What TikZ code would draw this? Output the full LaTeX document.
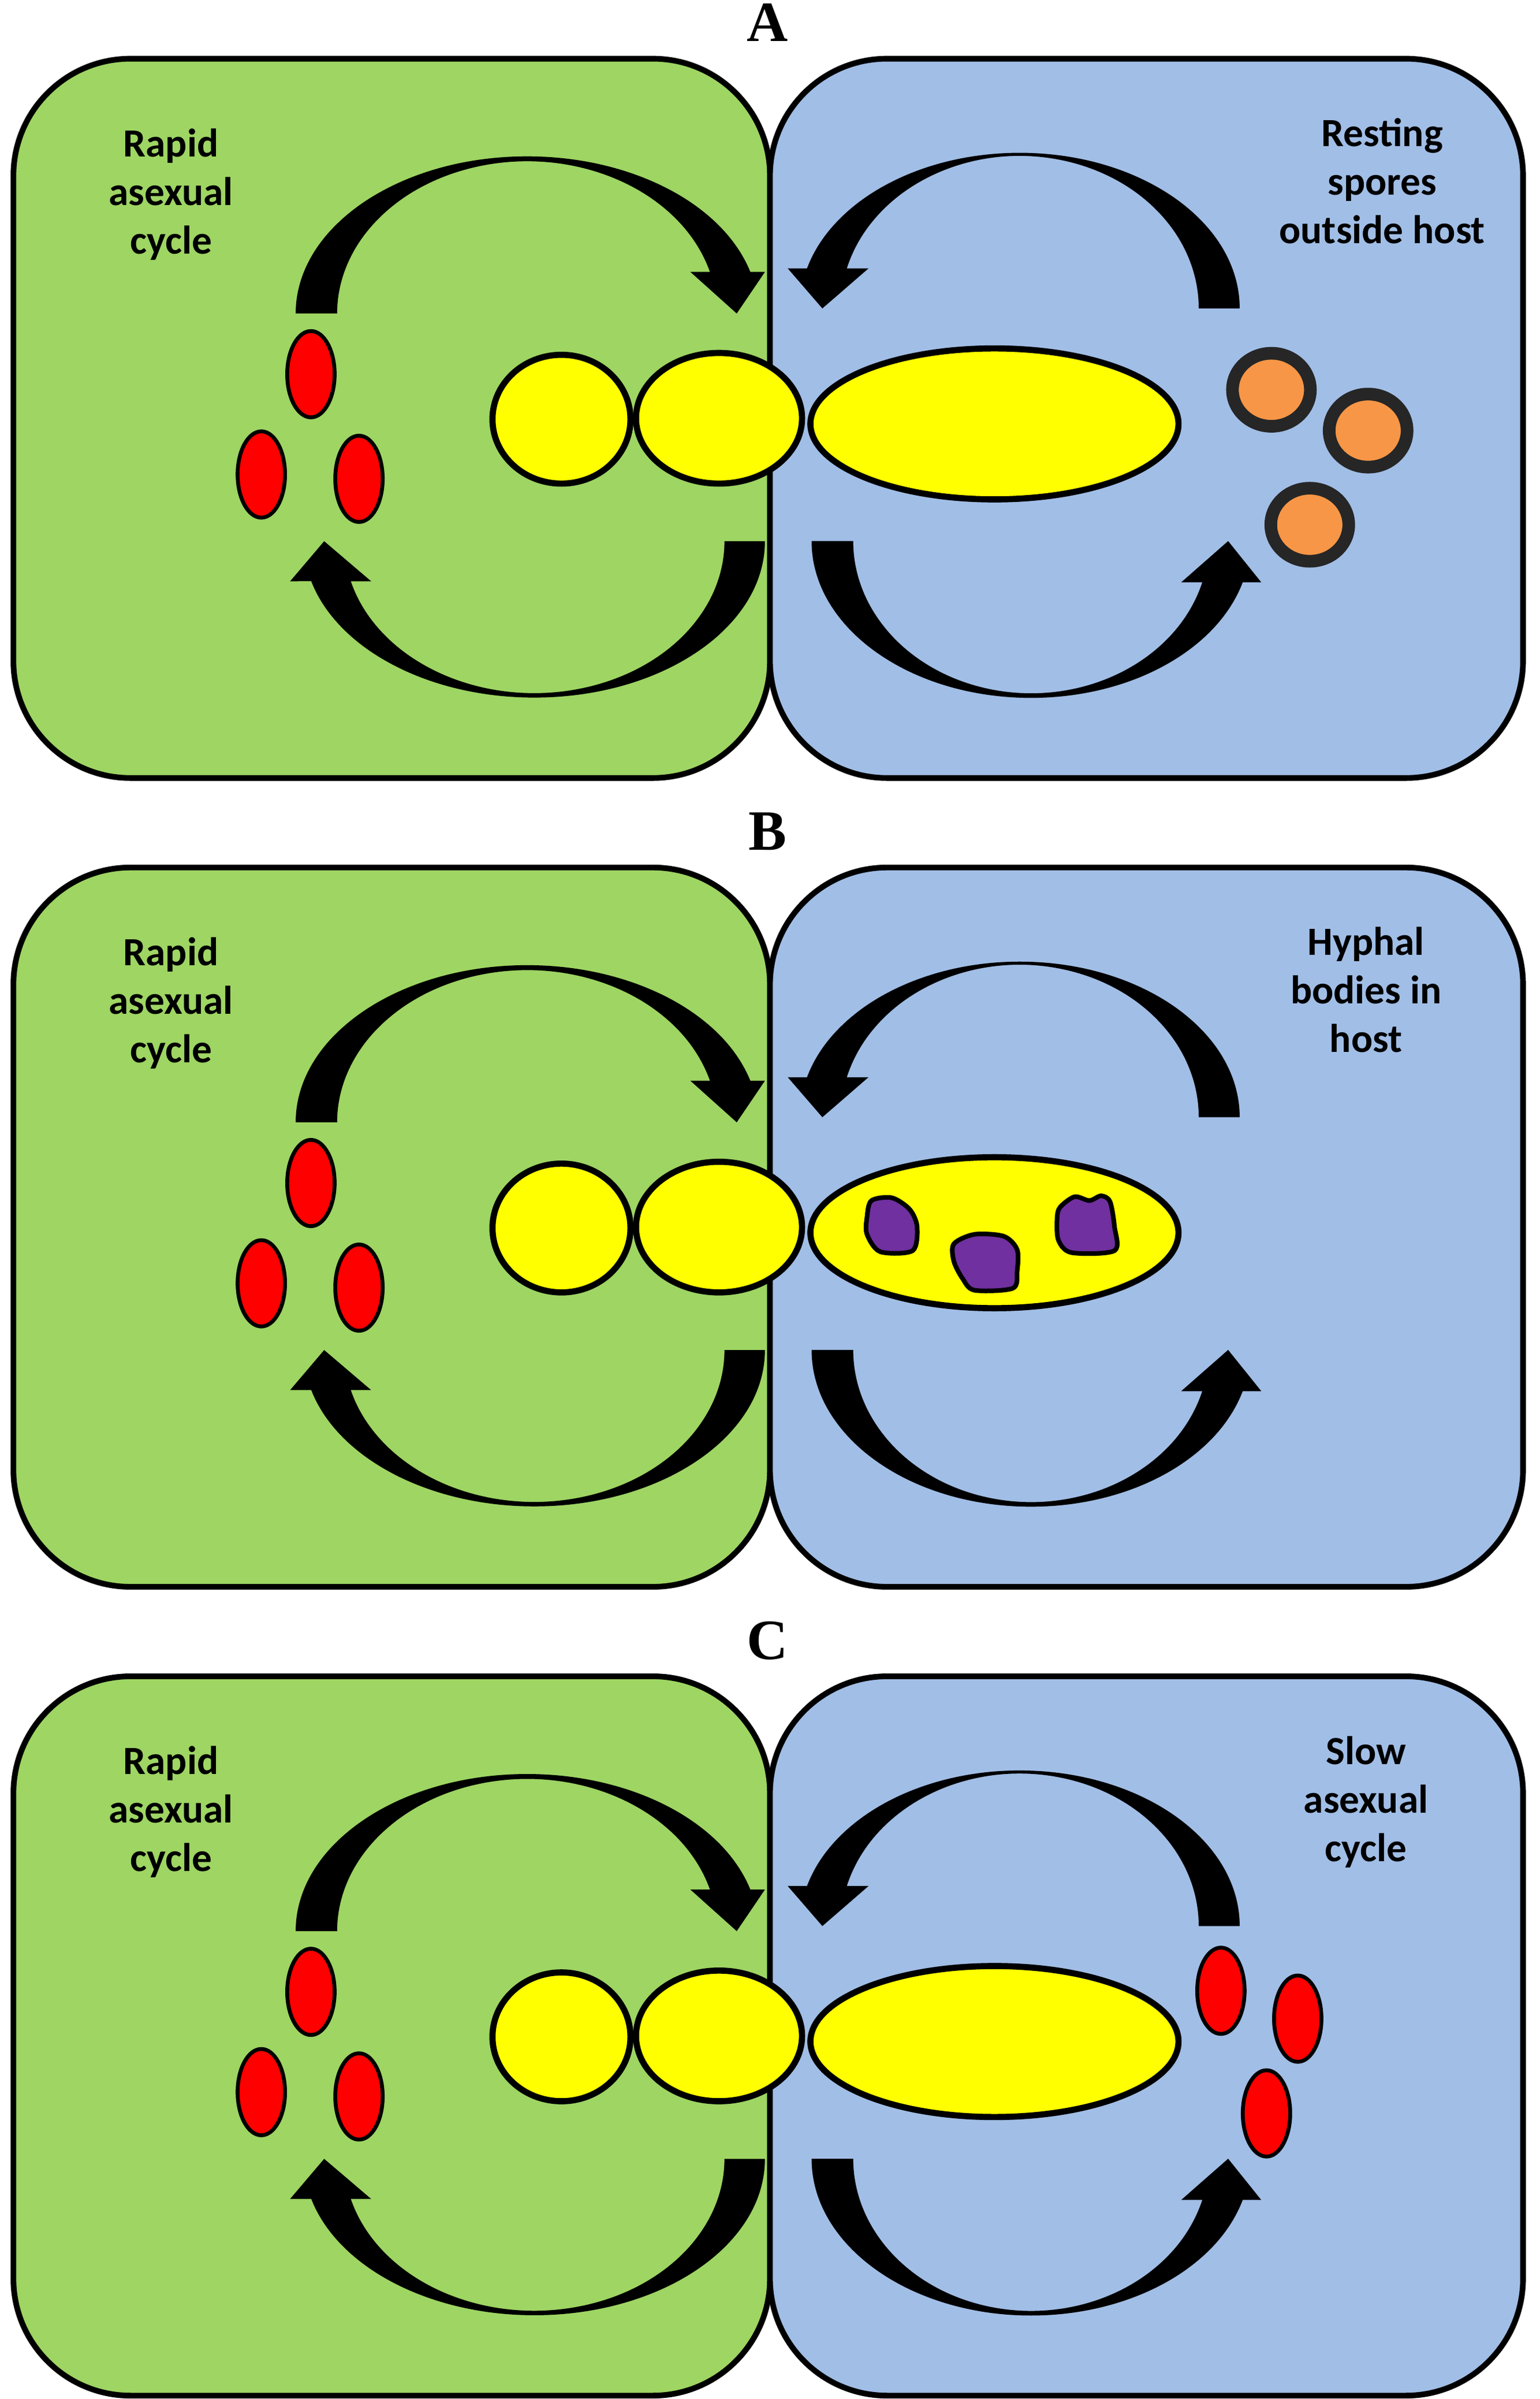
\documentclass[tikz,border=0pt]{standalone}
\usepackage{fontspec}
\setmainfont{Carlito}
\newfontfamily\panelfont{Liberation Serif}
\usepackage{xcolor}
\usetikzlibrary{positioning,shapes.geometric}
\definecolor{hostgreen}{RGB}{158,213,99}
\definecolor{hostblue}{RGB}{161,190,230}
\definecolor{cellyellow}{RGB}{255,255,0}
\definecolor{sporered}{RGB}{255,0,0}
\definecolor{sporeorange}{RGB}{247,150,70}
\definecolor{sporerim}{RGB}{38,38,38}
\definecolor{hyphalpurple}{RGB}{112,48,160}
\tikzset{hostbox/.style={draw=black, line width=3.7pt, rounded corners=76pt},
	cell/.style={ellipse, draw=black, fill=cellyellow, line width=4pt, inner sep=0pt},
	zoospore/.style={ellipse, draw=black, fill=sporered, line width=2.5pt, inner sep=0pt, minimum width=30.8pt, minimum height=56pt},
	restspore/.style={ellipse, draw=sporerim, fill=sporeorange, line width=8.2pt, inner sep=0pt, minimum width=50.6pt, minimum height=47.4pt},
	hyphal/.style={draw=black, fill=hyphalpurple, line width=3pt, line join=round},
	cyclearrow/.style={fill=black},
	stagetext/.style={font=\bfseries\fontsize{26}{31.5}\selectfont, align=center, anchor=base},
	paneltitle/.style={font=\panelfont\bfseries\fontsize{37}{40}\selectfont, anchor=base}}

\begin{document}
\begin{tikzpicture}[x=1pt,y=-1pt]
	\useasboundingbox (0,0) rectangle (1000,1557.2);
	% the three panels share host boxes, cycles and yellow cells
	\foreach \p/\dy/\rx/\ry/\rtext in {A/0/897.5/157.9/{Resting\\spores\\outside host},
		B/525/887/158.1/{Hyphal\\bodies in\\host},
		C/1050/887/158.2/{Slow\\asexual\\cycle}}{
		\begin{scope}[shift={(0,\dy)}]
			\draw[hostbox, fill=hostgreen] (8.7,38.1) rectangle (500,505);
			\draw[hostbox, fill=hostblue] (500,38.1) rectangle (989,505);
			\node[paneltitle] (title\p) at (498.3,26.9) {\p};
			% asexual cycle, left
			\fill[cyclearrow] (192,203.5) arc[start angle=180, end angle=344.65, x radius=150.3, y radius=102]
				-- (496.7,176.5) -- (478.4,203.5) -- (448.3,176.5) -- (461,176.5)
				arc[start angle=344.14, end angle=180, x radius=123.4, y radius=98.8] -- cycle;
			\fill[cyclearrow] (496.7,351.3) arc[start angle=0, end angle=165.16, x radius=149.8, y radius=101.5]
				-- (188.4,377.3) -- (210.5,351.3) -- (241,377.3) -- (227.8,377.3)
				arc[start angle=164.71, end angle=0, x radius=123.5, y radius=98.6] -- cycle;
			% cycle, right
			\fill[cyclearrow] (805,200.2) arc[start angle=360, end angle=194.92, x radius=142.9, y radius=101]
				-- (511.5,174.2) -- (534,200.2) -- (564,174.2) -- (549.9,174.2)
				arc[start angle=195.23, end angle=360, x radius=116.3, y radius=99] -- cycle;
			\fill[cyclearrow] (527,351.2) arc[start angle=180, end angle=15.26, x radius=142.5, y radius=101.8]
				-- (819,378) -- (797.5,351.2) -- (767,378) -- (780.7,378)
				arc[start angle=15.74, end angle=180, x radius=115.5, y radius=98.8] -- cycle;
			\node[cell, minimum width=89.6pt, minimum height=83.6pt] (left\p) at (364.6,272.1) {};
			\node[cell, minimum width=107.8pt, minimum height=84.8pt] (mid\p) at (466.9,271.5) {};
			\node[cell, minimum width=239pt, minimum height=98pt] (host\p) at (645.75,275.15) {};
			\node[zoospore] (za\p) at (201.9,242.9) {};
			\node[zoospore] (zb\p) at (169.7,308) {};
			\node[zoospore] (zc\p) at (233.1,310.8) {};
			% anchor base sits on the last line
			\node[stagetext] (rapid\p) at (111,164.7) {Rapid\\asexual\\cycle};
			\node[stagetext] (stage\p) at (\rx,\ry) {\rtext};
		\end{scope}
	}
	% A: resting spores
	\node[restspore] (rest1) at (825.6,253) {};
	\node[restspore] (rest2) at (888.4,279.5) {};
	\node[restspore] (rest3) at (850.5,340.6) {};
	% B: hyphal bodies
	\begin{scope}[shift={(0,525)}]
		\draw[hyphal] plot[smooth cycle, tension=0.5] coordinates {(565.9,254.3) (579.2,252.5) (590.7,260) (595.5,271.2) (592.6,286.8) (571.6,287.5) (563,276.2) (563,265)};
		\draw[hyphal] plot[smooth cycle, tension=0.5] coordinates {(619.4,282.4) (632.8,276.2) (651.9,277.5) (660.5,286.2) (660.5,300) (657.7,311.2) (632.8,312.5) (625.1,305) (619.4,293.7)};
		\draw[hyphal] plot[smooth cycle, tension=0.5] coordinates {(688.3,258.7) (697.8,251.8) (707.4,254.3) (715,251.2) (720.8,255) (723.7,271.2) (723.7,286.8) (695.9,288.1) (687.3,280) (686.4,266.2)};
	\end{scope}
	% C: slow asexual spores
	\node[zoospore] (slow1) at (792.8,1292.2) {};
	\node[zoospore] (slow2) at (842.7,1310.3) {};
	\node[zoospore] (slow3) at (822.4,1371.8) {};
\end{tikzpicture}
\end{document}
